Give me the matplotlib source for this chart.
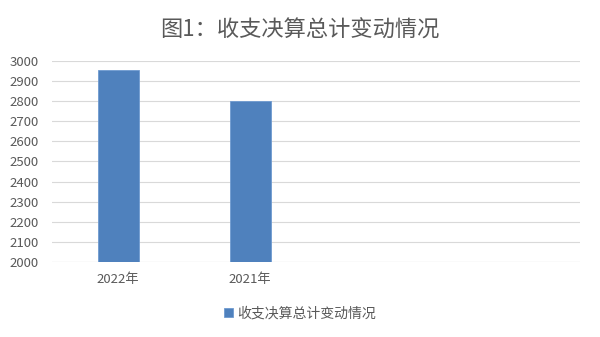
import matplotlib
matplotlib.use("Agg")
import matplotlib.pyplot as plt
import numpy as np

plt.rcParams['font.family'] = ['Noto Sans CJK SC', 'DejaVu Sans']

title = "图1：收支决算总计变动情况"
series_name = "收支决算总计变动情况"
categories = ["2022年", "2021年"]
values = [2955, 2801]
yticks = [2000, 2100, 2200, 2300, 2400, 2500, 2600, 2700, 2800, 2900, 3000]

fig = plt.figure(figsize=(6.0, 3.37), dpi=100)
ax = fig.add_axes([0.087, 0.223, 0.880, 0.596])

x = np.arange(len(categories))
ax.bar(x, values, width=0.31, color="#4f81bd", edgecolor="#6f9bd1", linewidth=0.6,
       label=series_name, zorder=3)

ax.set_xlim(-0.5, 3.5)
ax.set_ylim(yticks[0], yticks[-1])
ax.set_yticks(yticks)
ax.set_xticks(x)
ax.set_xticklabels(categories)
ax.grid(axis="y", color="#d9d9d9", linewidth=0.8, zorder=0)
for s in ax.spines.values():
    s.set_visible(False)
ax.axhline(yticks[0], color="#d9d9d9", linewidth=0.8, zorder=1)
ax.tick_params(axis="both", length=0, labelsize=9.5, colors="#595959")
ax.tick_params(axis="y", pad=10)
ax.tick_params(axis="x", pad=8)

fig.text(0.5, 0.91, title, ha="center", va="center", fontsize=16, color="#595959")

leg = fig.legend(loc="center", bbox_to_anchor=(0.5, 0.07), frameon=False,
                 fontsize=10, handlelength=0.6, handleheight=0.6, handletextpad=0.3)
for t in leg.get_texts():
    t.set_color("#595959")

fig.savefig("out.png", dpi=100)
